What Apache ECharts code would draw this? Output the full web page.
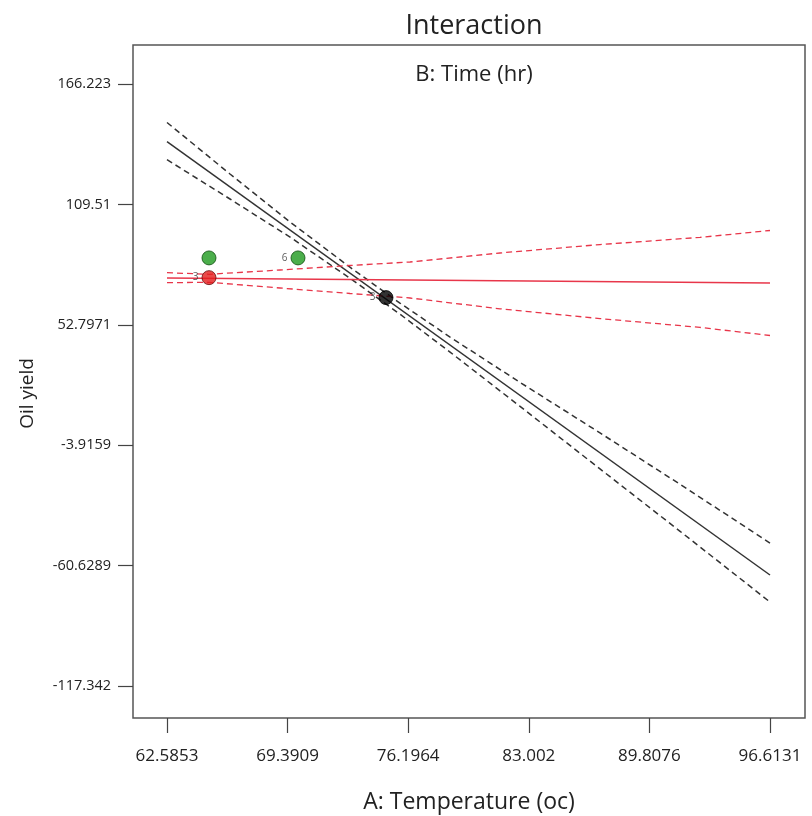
<!DOCTYPE html>
<html>
<head>
<meta charset="utf-8">
<script src="https://cdn.jsdelivr.net/npm/echarts@6/dist/echarts.min.js"></script>
<style>
  html, body { margin: 0; padding: 0; background: #fff; }
  #chart { width: 812px; height: 816px; }
</style>
</head>
<body>
<div id="chart"></div>
<script>
// tick labels
var xTicks = [62.5853, 69.3909, 76.1964, 83.002, 89.8076, 96.6131];
var xTickLabels = ['62.5853', '69.3909', '76.1964', '83.002', '89.8076', '96.6131'];
var yTicks = [-117.342, -60.6289, -3.9159, 52.7971, 109.51, 166.223];
var yTickLabels = ['-117.342', '-60.6289', '-3.9159', '52.7971', '109.51', '166.223'];

// B low (black) - prediction and confidence band
var blackX = [62.5853, 66.14, 69.53, 72.91, 75.73, 78.56, 82.51, 87.02, 91.54, 96.6131];
var blackMid = [139.04, 118.5, 98.2, 77.9, 61.0, 44.1, 20.4, -6.7, -33.8, -65.06];
var blackUpper = [148.09, 123.83, 101.22, 79.93, 63.02, 47.00, 25.66, 1.87, -22.34, -49.99];
var blackLower = [130.56, 112.05, 94.10, 74.74, 57.83, 39.93, 14.36, -15.08, -44.48, -77.78];

// B high (red) - prediction and confidence band
var redX = [62.5853, 64.955, 68.962, 72.912, 76.298, 81.377, 87.020, 92.664, 96.6131];
var redMid = [74.84, 74.7, 74.4, 74.1, 73.9, 73.6, 73.2, 72.8, 72.48];
var redUpper = [77.33, 76.58, 78.61, 80.73, 82.38, 86.62, 90.58, 93.97, 97.22];
var redLower = [72.63, 72.81, 70.13, 67.54, 65.42, 60.33, 55.72, 51.57, 47.76];

// design points [temperature, oil yield, label]
var greenPts = [[64.955, 84.3, ''], [69.978, 84.3, '6']];
var redPts = [[64.955, 75.0, '3']];
var blackPts = [[74.944, 65.6, '3']];

function pairs(xs, ys) {
    return xs.map(function (x, i) { return [x, ys[i]]; });
}

var chart = echarts.init(document.getElementById('chart'));
var font = '"Open Sans", "Noto Sans", sans-serif';

function lineSeries(xs, ys, color, dashed, width) {
    return {
        type: 'line',
        data: pairs(xs, ys),
        symbol: 'none',
        silent: true,
        lineStyle: { color: color, width: width, type: dashed ? [6, 4] : 'solid' },
        z: 2
    };
}

function pointSeries(pts, color, border) {
    return {
        type: 'scatter',
        data: pts,
        symbolSize: 14,
        itemStyle: { color: color, borderColor: border, borderWidth: 1 },
        label: {
            show: true,
            position: 'left',
            distance: 3,
            fontSize: 10,
            fontFamily: font,
            color: '#333',
            formatter: function (p) { return p.data[2]; }
        },
        z: 5
    };
}

option = {
    backgroundColor: '#fff',
    animation: false,
    title: [{
        text: 'Interaction',
        left: 469,
        top: 8,
        textAlign: 'center',
        textStyle: { fontSize: 27, fontWeight: 'normal', color: '#222', fontFamily: font }
    }, {
        text: 'B: Time (hr)',
        left: 469,
        top: 59,
        textAlign: 'center',
        textStyle: { fontSize: 22, fontWeight: 'normal', color: '#222', fontFamily: font }
    }],
    grid: {
        left: 133,
        right: 7,
        top: 45,
        bottom: 98,
        containLabel: false,
        outerBoundsMode: 'none',
        show: true,
        borderColor: '#555',
        borderWidth: 1.5
    },
    xAxis: {
        type: 'value',
        min: 60.667,
        max: 98.589,
        name: 'A: Temperature (oc)',
        nameLocation: 'middle',
        nameGap: 73,
        nameTextStyle: { fontSize: 23, color: '#222', fontFamily: font },
        axisLine: { show: false, onZero: false },
        splitLine: { show: false },
        axisTick: { show: true, customValues: xTicks, length: 15, lineStyle: { color: '#444', width: 1.2 } },
        axisLabel: {
            customValues: xTicks,
            margin: 30,
            fontSize: 17,
            color: '#222',
            fontFamily: font,
            formatter: function (v) {
                var i = xTicks.indexOf(v);
                return i >= 0 ? xTickLabels[i] : '';
            }
        }
    },
    yAxis: {
        type: 'value',
        min: -132.42,
        max: 184.59,
        name: 'Oil yield',
        nameLocation: 'middle',
        nameGap: 96,
        nameTextStyle: { fontSize: 19, color: '#222', fontFamily: font, padding: [0, 24, 0, 0] },
        axisLine: { show: false, onZero: false },
        splitLine: { show: false },
        axisTick: { show: true, customValues: yTicks, length: 15, lineStyle: { color: '#444', width: 1.2 } },
        axisLabel: {
            customValues: yTicks,
            margin: 22,
            fontSize: 14.5,
            color: '#222',
            fontFamily: font,
            formatter: function (v) {
                var i = yTicks.indexOf(v);
                return i >= 0 ? yTickLabels[i] : '';
            }
        }
    },
    series: [
        lineSeries(blackX, blackUpper, '#333', true, 1.5),
        lineSeries(blackX, blackLower, '#333', true, 1.5),
        lineSeries([blackX[0], blackX[blackX.length - 1]], [blackMid[0], blackMid[blackMid.length - 1]], '#333', false, 1.5),
        lineSeries(redX, redUpper, '#e8364a', true, 1.3),
        lineSeries(redX, redLower, '#e8364a', true, 1.3),
        lineSeries([redX[0], redX[redX.length - 1]], [redMid[0], redMid[redMid.length - 1]], '#e8364a', false, 1.3),
        pointSeries(greenPts, '#1e9a1e', '#0d4d0d'),
        pointSeries(redPts, '#e41b1b', '#6a0a0a'),
        pointSeries(blackPts, '#000', '#000')
    ]
};

chart.setOption(option);
</script>
</body>
</html>
